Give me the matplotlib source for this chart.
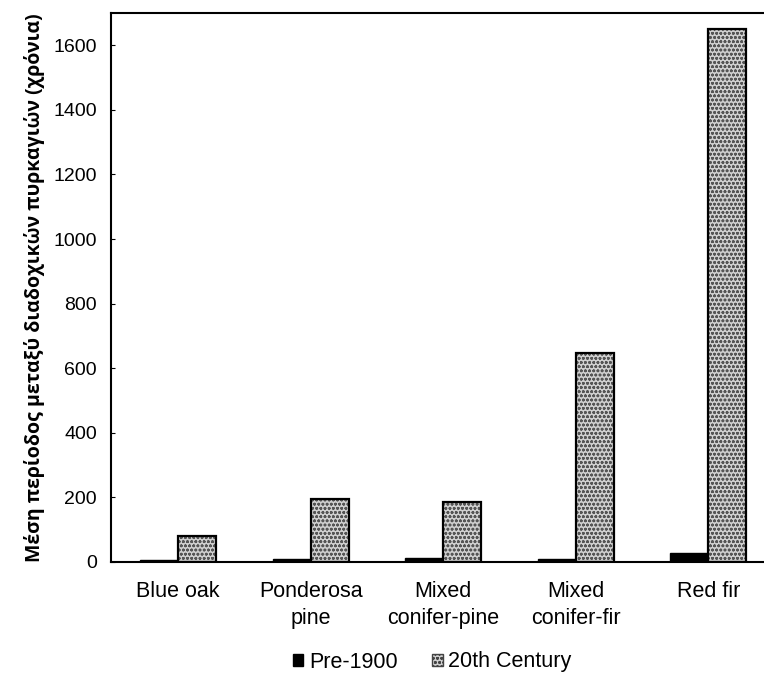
import matplotlib.pyplot as plt
import numpy as np
from matplotlib.patches import Patch

# vegetation types and mean fire return interval (years)
categories = ['Blue oak', 'Ponderosa\npine', 'Mixed\nconifer-pine', 'Mixed\nconifer-fir', 'Red fir']
pre_1900 = [5, 8, 12, 10, 28]
century_20 = [80, 195, 187, 647, 1650]
yticks = [0, 200, 400, 600, 800, 1000, 1200, 1400, 1600]

plt.rcParams['font.family'] = ['Liberation Sans', 'DejaVu Sans']
plt.rcParams['hatch.linewidth'] = 0.8

fig = plt.figure(figsize=(7.64, 6.75), dpi=100)
ax = fig.add_axes([111/764, 1 - 562/675, 1 - 111/764, (562 - 13)/675])

x = np.arange(len(categories))
w = 0.287

ax.bar(x - w/2, pre_1900, w, color='black', edgecolor='black', linewidth=1)
# dotted fill first, then a black outline on top
ax.bar(x + w/2, century_20, w, color='#cfcfcf', edgecolor='#555555',
       hatch='oooo', linewidth=0)
ax.bar(x + w/2, century_20, w, fill=False, edgecolor='black', linewidth=1.6)

ax.set_xlim(-0.506, 4.42)
ax.set_ylim(0, 1700)
ax.set_yticks(yticks)
ax.set_yticklabels([str(v) for v in yticks], fontsize=14)
ax.set_xticks(x)
ax.set_xticklabels(categories, fontsize=15.5, linespacing=1.35)
ax.tick_params(axis='x', length=0, pad=14)
ax.tick_params(axis='y', direction='in', length=3, pad=10, width=0.8)

for s in ['left', 'bottom', 'top']:
    ax.spines[s].set_linewidth(1.5)
ax.spines['right'].set_visible(False)

ax.set_ylabel('Μέση περίοδος μεταξύ διαδοχικών πυρκαγιών (χρόνια)',
              fontsize=14, fontweight='bold', family=['Open Sans', 'DejaVu Sans'],
              labelpad=6)

handles = [Patch(facecolor='black', edgecolor='black'),
           Patch(facecolor='#cfcfcf', edgecolor='#444444', hatch='oooo')]
fig.legend(handles, ['Pre-1900', '20th Century'], loc='center',
           bbox_to_anchor=(432/764, 1 - 662/675), ncol=2, frameon=False,
           fontsize=15.5, handlelength=0.5, handleheight=0.5,
           handletextpad=0.25, columnspacing=1.6)

fig.savefig('out.png', dpi=100)
